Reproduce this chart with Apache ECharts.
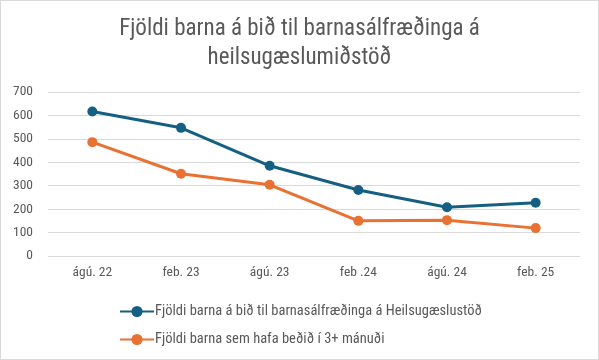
<!DOCTYPE html>
<html><head><meta charset="utf-8">
<script src="https://cdn.jsdelivr.net/npm/echarts@6/dist/echarts.min.js"></script>
<style>html,body{margin:0;padding:0;background:#fff}#c{width:599px;height:360px;box-sizing:border-box;border:1px solid #d9d9d9}</style>
</head><body><div id="c"></div>
<script>
const categories = ['ágú. 22','feb. 23','ágú. 23','feb .24','ágú. 24','feb. 25'];
const seriesNames = ['Fjöldi barna á bið til barnasálfræðinga á Heilsugæslustöð','Fjöldi barna sem hafa beðið í 3+ mánuði'];
const waiting = [617, 547, 385, 282, 208, 227];
const waiting3plus = [486, 351, 304, 150, 153, 119];
const titleLines = ['Fjöldi barna á bið til barnasálfræðinga á','heilsugæslumiðstöð'];
const font = '"Liberation Sans Narrow","Roboto Condensed","Liberation Sans",sans-serif';
const chart = echarts.init(document.getElementById('c'));
chart.setOption({
  animation:false,
  title:{text:titleLines.join('\n'),left:'center',top:9,textStyle:{fontFamily:font,fontWeight:'normal',fontSize:23,color:'#595959',lineHeight:29}},
  grid:{left:47,right:18,top:91,bottom:103,containLabel:false},
  xAxis:{type:'category',data:categories,boundaryGap:true,axisLine:{show:false},axisTick:{show:false},
    axisLabel:{color:'#595959',fontFamily:font,fontSize:13.5,margin:10}},
  yAxis:{type:'value',min:0,max:700,interval:100,axisLine:{show:false},axisTick:{show:false},
    splitLine:{lineStyle:{color:'#d9d9d9',width:1}},
    axisLabel:{color:'#595959',fontFamily:font,fontSize:13.5,margin:15}},
  legend:{orient:'vertical',left:113,top:298,itemGap:13,itemWidth:34,itemHeight:14,
    textStyle:{fontFamily:font,fontSize:14.5,color:'#595959',padding:[0,0,0,-4]},
    data:seriesNames},
  series:[
    {name:seriesNames[0],type:'line',data:waiting,symbol:'circle',symbolSize:10,color:'#156082',lineStyle:{width:3}},
    {name:seriesNames[1],type:'line',data:waiting3plus,symbol:'circle',symbolSize:10,color:'#E97132',lineStyle:{width:3}}
  ]
});
</script></body></html>
